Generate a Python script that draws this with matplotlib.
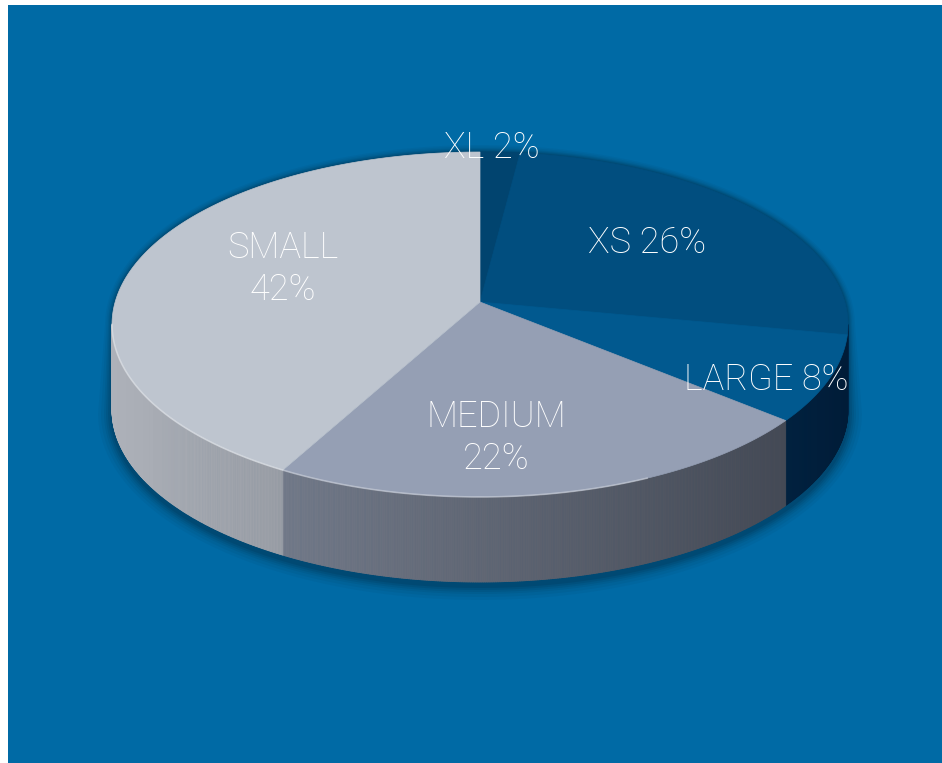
import numpy as np
import matplotlib
matplotlib.use("Agg")
import matplotlib.pyplot as plt
from matplotlib.patches import Polygon, Rectangle
from matplotlib.collections import PolyCollection

# ---- data ----
categories = ["XL", "XS", "LARGE", "MEDIUM", "SMALL"]
values = [2, 26, 8, 22, 42]
label_texts = ["XL 2%", "XS 26%", "LARGE 8%", "MEDIUM\n22%", "SMALL\n42%"]

# ---- style ----
top_colors = ["#01446f", "#014e7f", "#01598f", "#959fb4", "#bec5cf"]
side_colors = {  # (left colour, right colour) of each visible side face
    "LARGE": ("#02213f", "#001c38"),
    "MEDIUM": ("#737a89", "#454a55"),
    "SMALL": ("#adb1b9", "#9a9ea6"),
    "XS": ("#002a4f", "#00203f"),
    "XL": ("#002a4f", "#00203f"),
}
bg_color = "#006aa5"
label_pos = {"XL": (492, 148), "XS": (647, 243), "LARGE": (766, 380),
             "MEDIUM": (496, 438), "SMALL": (283, 269)}

W, H = 942, 763
fig = plt.figure(figsize=(W / 100, H / 100), dpi=100, facecolor="white")
ax = fig.add_axes([0, 0, 1, 1])
ax.set_xlim(0, W)
ax.set_ylim(H, 0)
ax.axis("off")

ax.add_patch(Rectangle((8, 5), W, H, facecolor=bg_color, edgecolor="none", zorder=0))

# pie geometry (pixels)
cx, cy, a, b = 480.0, 324.5, 368.0, 172.5
vx, vy = 480.0, 302.0
depth = 85.0


def ray_point(theta):
    """Point where a ray from the apex at circle-space angle theta meets the rim."""
    w = (vy - cy) / b
    s = np.sin(theta)
    sp = w * s + np.sqrt(w * w * s * s - w * w + 1)
    return vx + a * np.cos(theta) * sp, cy + b * (w - s * sp)


def psi_of(theta):
    x, y = ray_point(theta)
    return np.arctan2((y - cy) / b, (x - cx) / a)


total = float(sum(values))
fracs = [v / total for v in values]
# clockwise from top
theta_b = [np.pi / 2]
for f in fracs:
    theta_b.append(theta_b[-1] - 2 * np.pi * f)
psi_b = np.array(np.unwrap([psi_of(t) for t in theta_b]))
psi_b[0] = -np.pi / 2
psi_b[-1] = 1.5 * np.pi


def rim(psi, dy=0.0, grow=0.0):
    return cx + (a + grow) * np.cos(psi), cy + dy + (b + grow) * np.sin(psi)


# ---- soft shadow ----
for k, al in zip([14, 11, 8, 6, 4, 2], [0.03, 0.04, 0.05, 0.06, 0.07, 0.08]):
    ps1 = np.linspace(np.pi, 2 * np.pi, 120)
    ps2 = np.linspace(0, np.pi, 120)
    x1, y1 = rim(ps1, 0, k * 0.5)
    x2, y2 = rim(ps2, depth + 4, k)
    pts = np.column_stack([np.concatenate([x2, x1]), np.concatenate([y2, y1])])
    ax.add_patch(Polygon(pts, closed=True, facecolor="black", alpha=al,
                         edgecolor="none", zorder=1))


def hex2rgb(h):
    return np.array(matplotlib.colors.to_rgb(h))


# ---- side faces ----
polys, cols = [], []
for i, cat in enumerate(categories):
    p0, p1 = max(psi_b[i], 0.0), min(psi_b[i + 1], np.pi)
    if p1 <= p0:
        continue
    n = max(int((p1 - p0) * 200), 4)
    ps = np.linspace(p0, p1, n + 1)
    xs, ys = rim(ps)
    c_left, c_right = hex2rgb(side_colors[cat][0]), hex2rgb(side_colors[cat][1])
    xmin, xmax = xs.min(), xs.max()
    for j in range(n):
        quad = [(xs[j], ys[j]), (xs[j + 1], ys[j + 1]),
                (xs[j + 1], ys[j + 1] + depth), (xs[j], ys[j] + depth)]
        xm = 0.5 * (xs[j] + xs[j + 1])
        t = (xm - xmin) / max(xmax - xmin, 1)
        polys.append(quad)
        cols.append(c_right * t + c_left * (1 - t))
ax.add_collection(PolyCollection(polys, facecolors=cols, edgecolors=cols,
                                 linewidths=0.6, zorder=2))

# ---- top slices ----
for i, cat in enumerate(categories):
    ps = np.linspace(psi_b[i], psi_b[i + 1], 200)
    xs, ys = rim(ps)
    pts = np.vstack([[vx, vy], np.column_stack([xs, ys])])
    ax.add_patch(Polygon(pts, closed=True, facecolor=top_colors[i],
                         edgecolor=top_colors[i], linewidth=0.5, zorder=3))

# rim highlight on the front edge
ps = np.linspace(np.pi * 0.35, np.pi * 1.0, 200)
xs, ys = rim(ps)
ax.plot(xs, ys, color="white", alpha=0.35, linewidth=1.2, zorder=4)

# ---- labels ----
for cat, txt in zip(categories, label_texts):
    x, y = label_pos[cat]
    ax.text(x, y, txt, ha="center", va="center", color="white",
            fontsize=26, family=["Roboto", "DejaVu Sans"], fontweight="light",
            linespacing=1.2, zorder=5)

fig.savefig("out.png", dpi=100, facecolor="white")
